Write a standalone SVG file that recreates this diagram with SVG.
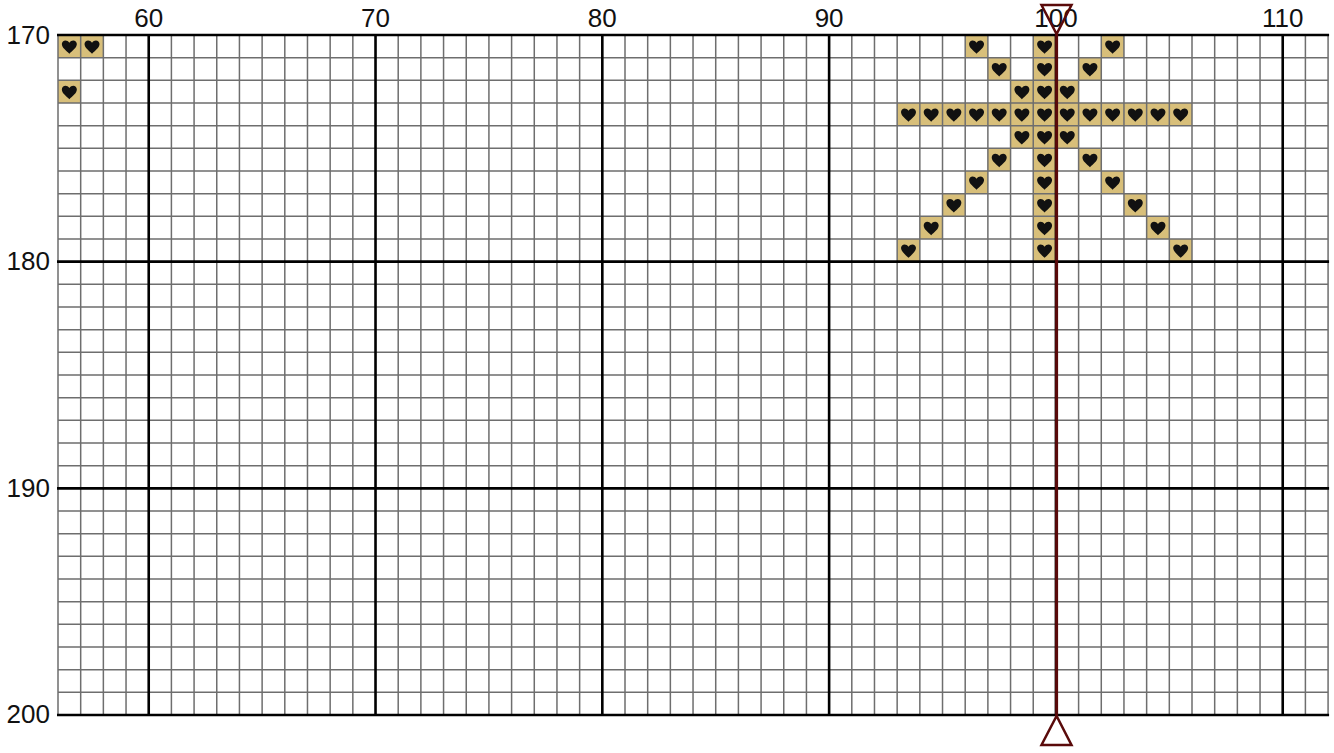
<svg xmlns="http://www.w3.org/2000/svg" xmlns:xlink="http://www.w3.org/1999/xlink" width="1334" height="753" viewBox="0 0 1334 753">
<style>
.minor{stroke:#6e6e6e;stroke-width:1.5;fill:none}
.major{stroke:#000;stroke-width:2.6;fill:none}
.lbl{font-family:"Liberation Sans",Arial,sans-serif;font-size:26px;fill:#111}
.cx{text-anchor:middle}
.rw{text-anchor:end}
.red{stroke:#5a0a0a;fill:none}
</style>
<defs>
<g id="st">
<rect width="22.68" height="22.67" fill="#d8bf7a"/>
<path transform="translate(11.34 11.7)" fill="#111" d="M0 7.1C-3 4.2-7.5 1-7.5-2.6C-7.5-6.6-2.4-7.8 0-4C2.4-7.8 7.5-6.6 7.5-2.6C7.5 1 3 4.2 0 7.1Z"/>
</g>
</defs>
<rect width="1334" height="753" fill="#fff"/>
<g id="stitches">
<use xlink:href="#st" x="58" y="35"/>
<use xlink:href="#st" x="80.68" y="35"/>
<use xlink:href="#st" x="58" y="80.33"/>
<use xlink:href="#st" x="965.2" y="35"/>
<use xlink:href="#st" x="1033.24" y="35"/>
<use xlink:href="#st" x="1101.28" y="35"/>
<use xlink:href="#st" x="987.88" y="57.67"/>
<use xlink:href="#st" x="1033.24" y="57.67"/>
<use xlink:href="#st" x="1078.6" y="57.67"/>
<use xlink:href="#st" x="1010.56" y="80.33"/>
<use xlink:href="#st" x="1033.24" y="80.33"/>
<use xlink:href="#st" x="1055.92" y="80.33"/>
<use xlink:href="#st" x="897.16" y="103"/>
<use xlink:href="#st" x="919.84" y="103"/>
<use xlink:href="#st" x="942.52" y="103"/>
<use xlink:href="#st" x="965.2" y="103"/>
<use xlink:href="#st" x="987.88" y="103"/>
<use xlink:href="#st" x="1010.56" y="103"/>
<use xlink:href="#st" x="1033.24" y="103"/>
<use xlink:href="#st" x="1055.92" y="103"/>
<use xlink:href="#st" x="1078.6" y="103"/>
<use xlink:href="#st" x="1101.28" y="103"/>
<use xlink:href="#st" x="1123.96" y="103"/>
<use xlink:href="#st" x="1146.64" y="103"/>
<use xlink:href="#st" x="1169.32" y="103"/>
<use xlink:href="#st" x="1010.56" y="125.67"/>
<use xlink:href="#st" x="1033.24" y="125.67"/>
<use xlink:href="#st" x="1055.92" y="125.67"/>
<use xlink:href="#st" x="987.88" y="148.33"/>
<use xlink:href="#st" x="1033.24" y="148.33"/>
<use xlink:href="#st" x="1078.6" y="148.33"/>
<use xlink:href="#st" x="965.2" y="171"/>
<use xlink:href="#st" x="1033.24" y="171"/>
<use xlink:href="#st" x="1101.28" y="171"/>
<use xlink:href="#st" x="942.52" y="193.67"/>
<use xlink:href="#st" x="1033.24" y="193.67"/>
<use xlink:href="#st" x="1123.96" y="193.67"/>
<use xlink:href="#st" x="919.84" y="216.33"/>
<use xlink:href="#st" x="1033.24" y="216.33"/>
<use xlink:href="#st" x="1146.64" y="216.33"/>
<use xlink:href="#st" x="897.16" y="239"/>
<use xlink:href="#st" x="1033.24" y="239"/>
<use xlink:href="#st" x="1169.32" y="239"/>
</g>
<g id="grid">
<path class="minor" d="M58 35V715M80.68 35V715M103.36 35V715M126.04 35V715M171.4 35V715M194.08 35V715M216.76 35V715M239.44 35V715M262.12 35V715M284.8 35V715M307.48 35V715M330.16 35V715M352.84 35V715M398.2 35V715M420.88 35V715M443.56 35V715M466.24 35V715M488.92 35V715M511.6 35V715M534.28 35V715M556.96 35V715M579.64 35V715M625 35V715M647.68 35V715M670.36 35V715M693.04 35V715M715.72 35V715M738.4 35V715M761.08 35V715M783.76 35V715M806.44 35V715M851.8 35V715M874.48 35V715M897.16 35V715M919.84 35V715M942.52 35V715M965.2 35V715M987.88 35V715M1010.56 35V715M1033.24 35V715M1078.6 35V715M1101.28 35V715M1123.96 35V715M1146.64 35V715M1169.32 35V715M1192 35V715M1214.68 35V715M1237.36 35V715M1260.04 35V715M1305.4 35V715M1328.08 35V715"/>
<path class="minor" d="M58 57.67H1328.08M58 80.33H1328.08M58 103H1328.08M58 125.67H1328.08M58 148.33H1328.08M58 171H1328.08M58 193.67H1328.08M58 216.33H1328.08M58 239H1328.08M58 284.33H1328.08M58 307H1328.08M58 329.67H1328.08M58 352.33H1328.08M58 375H1328.08M58 397.67H1328.08M58 420.33H1328.08M58 443H1328.08M58 465.67H1328.08M58 511H1328.08M58 533.67H1328.08M58 556.33H1328.08M58 579H1328.08M58 601.67H1328.08M58 624.33H1328.08M58 647H1328.08M58 669.67H1328.08M58 692.33H1328.08"/>
<path class="major" d="M148.72 35V715M375.52 35V715M602.32 35V715M829.12 35V715M1055.92 35V715M1282.72 35V715"/>
<path class="major" d="M57 35H1329.08M57 261.67H1329.08M57 488.33H1329.08M57 715H1329.08"/>
</g>
<g id="labels">
<text class="lbl cx" x="148.72" y="27">60</text>
<text class="lbl cx" x="375.52" y="27">70</text>
<text class="lbl cx" x="602.32" y="27">80</text>
<text class="lbl cx" x="829.12" y="27">90</text>
<text class="lbl cx" x="1055.92" y="27">100</text>
<text class="lbl cx" x="1282.72" y="27">110</text>
<text class="lbl rw" x="50" y="44">170</text>
<text class="lbl rw" x="50" y="270">180</text>
<text class="lbl rw" x="50" y="497">190</text>
<text class="lbl rw" x="50" y="723">200</text>
</g>
<g id="center-marker">
<line class="red" x1="1056.6" y1="34" x2="1056.6" y2="716" stroke-width="3"/>
<path class="red" stroke-width="2.5" stroke-linejoin="miter" d="M1041.5 5H1071.5L1056.6 34Z"/>
<path class="red" stroke-width="2.5" stroke-linejoin="miter" d="M1041.5 745H1071.5L1056.6 716Z"/>
</g>
</svg>
